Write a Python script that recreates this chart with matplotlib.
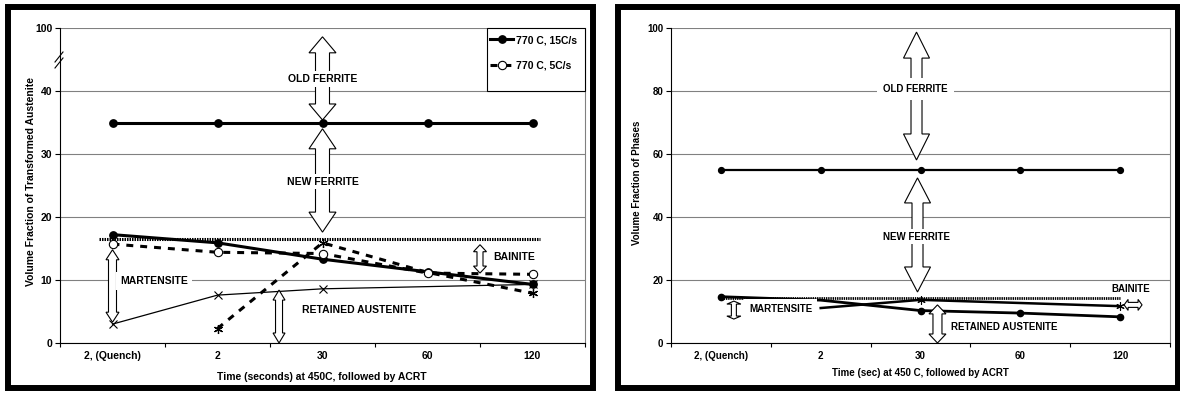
import matplotlib
matplotlib.use("Agg")
import matplotlib.pyplot as plt
import numpy as np
from matplotlib.patches import Polygon, Rectangle
from matplotlib.transforms import IdentityTransform
from matplotlib.lines import Line2D

plt.rcParams['font.family'] = ['Liberation Sans', 'DejaVu Sans']
plt.rcParams['font.weight'] = 'bold'
plt.rcParams['lines.scale_dashes'] = False

nan = np.nan
categories = ['2, (Quench)', '2', '30', '60', '120']

# ---------- left panel data ----------
L_old_ferrite = [35, 35, 35, 35, 35]
L_total_15 = [17.2, 15.9, 13.3, 11.3, 9.3]
L_total_5 = [15.7, 14.4, 14.2, 11.1, 10.9]
L_bainite_5 = [nan, 2.3, 15.9, 11.2, 7.9]
L_ret_aust = [3.0, 7.6, 8.6, nan, 9.3]
L_mart_level = 16.5
L_yticks = [0, 10, 20, 30, 40, 50]
L_ytick_labels = ['0', '10', '20', '30', '40', '100']

# ---------- right panel data ----------
R_old_ferrite = [55, 55, 55, 55, 55]
R_total = [14.7, 13.6, 10.3, 9.5, 8.3]
R_other = [nan, 11.1, 13.7, nan, 11.7]
R_mart_level = 14.4
R_yticks = [0, 20, 40, 60, 80, 100]

W, H = 1180, 396
fig = plt.figure(figsize=(W / 100, H / 100), dpi=100)
fig.patch.set_facecolor('white')

axL = fig.add_axes([60 / W, (H - 343) / H, 525 / W, 315 / H])
axR = fig.add_axes([671 / W, (H - 343) / H, 499 / W, 315 / H])

GRID = '#808080'


def style_axes(ax, yticks, ylabels, ylim, fs):
    ax.set_xlim(-0.5, 4.5)
    ax.set_ylim(*ylim)
    ax.set_yticks(yticks)
    ax.set_yticklabels(ylabels)
    ax.set_xticks(range(len(categories)))
    ax.set_xticklabels(categories)
    ax.set_xticks(np.arange(-0.5, 4.51, 1.0), minor=True)
    ax.tick_params(axis='x', which='major', length=0, pad=6, labelsize=fs)
    ax.tick_params(axis='x', which='minor', length=3, width=0.8, direction='out')
    ax.tick_params(axis='y', which='major', length=3.5, width=0.8, direction='out',
                   pad=2, labelsize=fs)
    ax.yaxis.grid(True, color=GRID, lw=0.8)
    ax.set_axisbelow(True)
    ax.spines['top'].set_visible(False)
    ax.spines['right'].set_color(GRID)
    ax.spines['right'].set_linewidth(0.8)
    ax.spines['left'].set_linewidth(0.8)
    ax.spines['bottom'].set_linewidth(0.8)
    for lab in ax.get_xticklabels() + ax.get_yticklabels():
        lab.set_fontweight('bold')


def plot_connected(ax, y, **kw):
    x = np.arange(len(y))
    y = np.asarray(y, float)
    m = ~np.isnan(y)
    return ax.plot(x[m], y[m], **kw)[0]


def block_arrow(ax, x, v_top, v_bot, shaft_w, head_w, head_len, lw=0.8):
    p1 = ax.transData.transform((x, v_top))
    p2 = ax.transData.transform((x, v_bot))
    cx, yt, yb = p1[0], p1[1], p2[1]
    s, h = shaft_w / 2, head_w / 2
    pts = [(cx, yt), (cx + h, yt - head_len), (cx + s, yt - head_len),
           (cx + s, yb + head_len), (cx + h, yb + head_len), (cx, yb),
           (cx - h, yb + head_len), (cx - s, yb + head_len),
           (cx - s, yt - head_len), (cx - h, yt - head_len)]
    poly = Polygon(pts, closed=True, transform=IdentityTransform(), fc='white',
                   ec='black', lw=lw, zorder=3, clip_on=False)
    ax.add_artist(poly)


def block_arrow_h(ax, x0, x1, v, shaft_w, head_w, head_len, lw=0.8):
    p1 = ax.transData.transform((x0, v))
    p2 = ax.transData.transform((x1, v))
    cy, xl, xr = p1[1], p1[0], p2[0]
    s, h = shaft_w / 2, head_w / 2
    pts = [(xl, cy), (xl + head_len, cy + h), (xl + head_len, cy + s),
           (xr - head_len, cy + s), (xr - head_len, cy + h), (xr, cy),
           (xr - head_len, cy - h), (xr - head_len, cy - s),
           (xl + head_len, cy - s), (xl + head_len, cy - h)]
    poly = Polygon(pts, closed=True, transform=IdentityTransform(), fc='white',
                   ec='black', lw=lw, zorder=3, clip_on=False)
    ax.add_artist(poly)


def label(ax, x, y, s, fs, pad=0.25):
    ax.text(x, y, s, ha='center', va='center', fontsize=fs, fontweight='bold',
            zorder=5, bbox=dict(boxstyle='square,pad=%g' % pad, fc='white', ec='none'))


ASTER = (6, 2, 0)

# ================= LEFT PANEL =================
style_axes(axL, L_yticks, L_ytick_labels, (0, 50), 7.5)
axL.set_ylabel('Volume Fraction of Transformed Austenite', fontsize=7.5, fontweight='bold')
axL.yaxis.label.set_va('center')
axL.yaxis.set_label_coords(-0.055, 0.514)
axL.set_xlabel('Time (seconds) at 450C, followed by ACRT', fontsize=7.5, fontweight='bold')
axL.xaxis.label.set_va('center')
axL.xaxis.set_label_coords(0.499, -0.108)

# dotted martensite-start level
axL.plot([0 - 0.13, 4 + 0.07], [L_mart_level, L_mart_level], color='black', lw=2.2,
         linestyle=(0, (1.1, 0.7)), zorder=2)
h15 = plot_connected(axL, L_old_ferrite, color='black', lw=2.2, marker='o', ms=5.3,
                     mfc='black', mec='black', zorder=2.5)
plot_connected(axL, L_total_15, color='black', lw=2.2, marker='o', ms=5.3,
               mfc='black', mec='black', zorder=2.4)
h5 = plot_connected(axL, L_total_5, color='black', lw=2.2, linestyle=(0, (5, 5)),
                    marker='o', ms=6, mfc='white', mec='black', mew=0.8, zorder=2.6)
plot_connected(axL, L_bainite_5, color='black', lw=2.2, linestyle=(0, (5, 5)),
               marker=ASTER, ms=6.5, mec='black', mew=0.9, markevery=[0, 1, 3], zorder=2.3)
plot_connected(axL, L_ret_aust, color='black', lw=0.9, marker='x', ms=5.5,
               mec='black', mew=0.8, zorder=2.2)

# legend box
axL.add_patch(Rectangle(((487 - 60) / 525, (343 - 91) / 315), 98 / 525, 63 / 315,
                        transform=axL.transAxes, fc='white', ec='black', lw=0.8,
                        zorder=4, clip_on=False))
leg = axL.legend([h15, h5], ['770 C, 15C/s', '770 C, 5C/s'], loc='upper left',
                 bbox_to_anchor=((488 - 60) / 525, (343 - 33) / 315), frameon=False,
                 fontsize=7.5, handlelength=2.2, handletextpad=0.3, labelspacing=1.45,
                 borderpad=0.2, borderaxespad=0, numpoints=1)
leg.set_zorder(6)
for t in leg.get_texts():
    t.set_fontweight('bold')

# axis break marks
for dy in (0, 6):
    axL.add_line(Line2D([(55 - 60) / 525, (63 - 60) / 525],
                        [(343 - 62 - dy) / 315, (343 - 52 - dy) / 315],
                        transform=axL.transAxes, color='black', lw=0.8, clip_on=False))

# phase arrows & labels
block_arrow(axL, 2.0, 48.6, 35.4, 14, 27, 16)
block_arrow(axL, 2.0, 34.0, 17.6, 14, 27, 20)
block_arrow(axL, 0.0, 14.8, 3.3, 8, 13, 10)
block_arrow(axL, 1.586, 8.4, 0.0, 7, 12, 10)
block_arrow(axL, 3.5, 15.6, 11.1, 6, 13, 7)
label(axL, 2.0, 41.9, 'OLD FERRITE', 7.5)
label(axL, 2.0, 25.6, 'NEW FERRITE', 7.5)
label(axL, 0.395, 9.8, 'MARTENSITE', 7.5, pad=0.4)
label(axL, 2.35, 5.2, 'RETAINED AUSTENITE', 7.5)
label(axL, 3.83, 13.7, 'BAINITE', 7.5)

# ================= RIGHT PANEL =================
style_axes(axR, R_yticks, [str(v) for v in R_yticks], (0, 100), 7)
axR.set_ylabel('Volume Fraction of Phases', fontsize=7, fontweight='bold')
axR.yaxis.label.set_va('center')
axR.yaxis.set_label_coords(-0.068, 0.51)
axR.set_xlabel('Time (sec) at 450 C, followed by ACRT', fontsize=7, fontweight='bold')
axR.xaxis.label.set_va('center')
axR.xaxis.set_label_coords(0.499, -0.095)

axR.plot([0, 4], [R_mart_level, R_mart_level], color='black', lw=2.0,
         linestyle=(0, (1.0, 0.6)), zorder=2)
plot_connected(axR, R_old_ferrite, color='black', lw=1.6, marker='o', ms=4.2,
               mfc='black', mec='black', zorder=2.5)
plot_connected(axR, R_total, color='black', lw=2.0, marker='o', ms=4.5,
               mfc='black', mec='black', markevery=[0, 2, 3, 4], zorder=2.4)
plot_connected(axR, R_other, color='black', lw=1.8, marker=ASTER, ms=6,
               mec='black', mew=0.8, markevery=[1, 2], zorder=2.3)

block_arrow(axR, 1.96, 98.7, 58.1, 11, 26, 26)
block_arrow(axR, 1.97, 52.4, 16.2, 11, 26, 25)
block_arrow(axR, 0.13, 13.3, 7.6, 5, 14, 3)
block_arrow(axR, 2.17, 12.1, 0.0, 9, 17, 9)
block_arrow_h(axR, 4.04, 4.22, 12.1, 5, 11, 4)
label(axR, 1.95, 80.6, 'OLD FERRITE', 7, pad=0.6)
label(axR, 1.96, 33.7, 'NEW FERRITE', 7)
label(axR, 0.6, 10.8, 'MARTENSITE', 7, pad=0.5)
label(axR, 2.84, 5.1, 'RETAINED AUSTENITE', 7)
label(axR, 4.11, 17.1, 'BAINITE', 7)

# ================= panel frames =================
for (x0, x1) in ((7.5, 593), (617.5, 1178)):
    fig.add_artist(Rectangle((x0 / W, (H - 388) / H), (x1 - x0) / W, (388 - 7) / H,
                             transform=fig.transFigure, fill=False, ec='black',
                             lw=4.3, zorder=10))

fig.savefig('out.png', dpi=100, facecolor='white')
